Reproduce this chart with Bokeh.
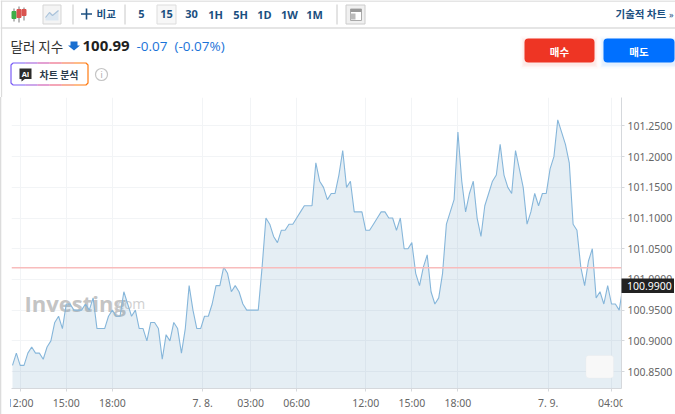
from bokeh.plotting import figure
from bokeh.models import Range1d, FixedTicker, Span, BoxAnnotation, Label, NumeralTickFormatter
from bokeh.core.properties import value
from bokeh.embed import file_html
from bokeh.resources import INLINE

values = [100.86,100.88,100.86,100.86,100.88,100.89,100.88,100.88,100.87,100.89,100.90,100.93,100.94,100.92,100.96,100.96,
100.95,100.95,100.95,100.96,100.95,100.97,100.92,100.92,100.92,100.94,100.95,100.94,100.94,100.98,100.96,100.94,
100.95,100.92,100.92,100.90,100.93,100.93,100.92,100.87,100.91,100.90,100.93,100.92,100.88,100.92,100.99,100.95,
100.92,100.92,100.94,100.94,100.96,100.99,100.99,101.02,101.01,100.98,100.99,100.98,100.96,100.95,100.95,100.95,100.95,
101.02,101.10,101.09,101.07,101.06,101.08,101.08,101.09,101.09,101.10,101.11,101.12,101.12,101.12,101.19,101.16,101.15,
101.13,101.14,101.14,101.17,101.21,101.15,101.16,101.11,101.11,101.11,101.08,101.08,101.09,101.10,101.11,101.11,101.10,
101.10,101.08,101.10,101.05,101.05,101.06,101.01,100.99,101.02,101.04,100.98,100.96,100.97,101.01,101.09,101.11,101.13,
101.24,101.16,101.11,101.14,101.16,101.10,101.07,101.12,101.14,101.16,101.17,101.22,101.17,101.15,101.14,101.21,101.18,
101.15,101.09,101.11,101.14,101.12,101.14,101.14,101.18,101.20,101.26,101.24,101.22,101.19,101.09,101.08,101.02,100.99,
101.03,101.05,100.97,100.98,100.96,100.99,100.96,100.96,100.95,100.99]
index = list(range(len(values)))
x_ticks = [2, 14, 26, 49.5, 62, 74, 92, 104, 116, 139.5, 156]
x_labels = ["12:00", "15:00", "18:00", "7. 8.", "03:00", "06:00", "12:00", "15:00", "18:00", "7. 9.", "04:00"]
y_ticks = [100.85, 100.90, 100.95, 101.00, 101.05, 101.10, 101.15, 101.20, 101.25]
previous_close = 101.019
last_price = 100.99
timeframes = ["5", "15", "30", "1H", "5H", "1D", "1W", "1M"]
tf_pos = [141, 166, 191, 215, 240, 264, 289, 314]

KR = value("Noto Sans CJK KR")
NS = value("Noto Sans")
OS = value("Open Sans")
NAVY = "#1b4f80"

# ---------- header (pixel coordinates of the page) ----------
h = figure(width=675, height=97, x_range=Range1d(0, 675), y_range=Range1d(97, 0),
           output_backend="svg", toolbar_location=None, min_border=0)
h.axis.visible = False
h.grid.visible = False
h.outline_line_color = None

def t(x, y, s, size, color, bold=False, align="left", font=KR):
    h.text([x], [y], text=[s], text_font=font, text_font_size=f"{size}px", text_color=color,
           text_align=align, text_baseline="middle", text_font_style="bold" if bold else "normal")

h.segment([0, 0, 1], [0.5, 27.5, 0], [675, 675, 1], [0.5, 27.5, 97], line_color="#dcdcdc", line_width=1.3)
h.segment([72.5, 124.5, 336.5], [4, 4, 4], [72.5, 124.5, 336.5], [24, 24, 24], line_color="#c8c8c8")
# candle icon
h.segment([13.5, 18.5, 23.5], [8, 6, 7], [13.5, 18.5, 23.5], [21, 22, 20], line_color="#777777")
h.quad([11.5, 21.5], [15.5, 25.5], [11, 9], [18, 15], fill_color=["#3fae49", "#d9534f"], line_color=["#3fae49", "#d9534f"])
h.quad([16.5], [20.5], [9], [17], fill_color="#d9534f", line_color="#d9534f")
# area icon
h.quad([42.5], [60.5], [4.5], [23.5], fill_color="#f4f4f4", line_color="#d5d5d5")
h.patch([45, 49, 52, 58, 58, 45], [17, 12, 15, 10, 20, 20], fill_color="#dce7f1", line_color=None)
h.line([45, 49, 52, 58], [17, 12, 15, 10], line_color="#a9c2da", line_width=1.2)
# compare
h.segment([80.5, 86], [13.5, 8], [91.5, 86], [13.5, 19], line_color=NAVY, line_width=1.6)
t(96, 13, "비교", 10.5, NAVY, True)
# timeframe
h.quad([156.5], [175.5], [4.5], [23.5], fill_color="#f7f7f7", line_color="#dddddd")
for xp, s in zip(tf_pos, timeframes):
    t(xp, 13.5, s, 11, NAVY, True, "center", OS)
# news icon
h.quad([345.5], [364.5], [4.5], [23.5], fill_color="#f0f0f0", line_color="#cccccc")
h.quad([350], [361], [8.5], [20], fill_color="#ffffff", line_color="#aaaaaa")
h.quad([350], [361], [8.5], [11.5], fill_color="#999999", line_color=None)
h.quad([350], [355], [13], [19], fill_color="#bbbbbb", line_color=None)
t(615, 13, "기술적 차트", 10.5, NAVY, True)
t(668.5, 13.5, "»", 9, NAVY, False, "left", NS)
# quote line
t(10, 45, "달러 지수", 13.5, "#333333")
h.patch([70, 77, 77, 79.5, 73.5, 67.5, 70], [41, 41, 45, 45, 50, 45, 45], fill_color="#1a6fd0", line_color=None)
t(82, 45.5, "100.99", 15, "#1f1f1f", True, "left", OS)
t(136, 45.5, "-0.07", 13.5, "#1a73d8", False, "left", OS)
t(174, 45.5, "(-0.07%)", 13.5, "#1a73d8", False, "left", OS)
# trade buttons
for d, a in ((4, 0.025), (2.5, 0.035), (1.2, 0.05)):
    h.quad([524 - d], [594 + d], [38 - d + 2], [62 + d + 2], fill_color="#ee3524", fill_alpha=a, line_color=None)
    h.quad([603 - d], [675], [38 - d + 2], [62 + d + 2], fill_color="#0070ff", fill_alpha=a, line_color=None)
h.add_layout(BoxAnnotation(left=524, right=594, top=38, bottom=62, fill_color="#ee3524", fill_alpha=1, line_color=None, border_radius=4))
h.add_layout(BoxAnnotation(left=603, right=674, top=38, bottom=62, fill_color="#0070ff", fill_alpha=1, line_color=None, border_radius=4))
h.add_layout(Label(x=559, y=50.5, text="매수", text_font="Noto Sans CJK KR", text_font_size="10.5px", text_font_style="bold", text_color="#ffffff", text_align="center", text_baseline="middle"))
h.add_layout(Label(x=638.5, y=50.5, text="매도", text_font="Noto Sans CJK KR", text_font_size="10.5px", text_font_style="bold", text_color="#ffffff", text_align="center", text_baseline="middle"))
# AI chart analysis button
seg = ["#7a5cf5", "#9a50d8", "#c845a8", "#e94f70", "#f5683a", "#ff7a10"]
for k, c in enumerate(seg):
    a = 12.5 + k * 12.2
    h.segment([a, a], [62.5, 84.5], [a + 12.2, a + 12.2], [62.5, 84.5], line_color=c, line_width=1.2)
h.line([12.5, 10.5, 10.5, 12.5], [62.5, 64.5, 82.5, 84.5], line_color="#7a5cf5", line_width=1.2)
h.line([85.5, 87.5, 87.5, 85.5], [62.5, 64.5, 82.5, 84.5], line_color="#ff7a10", line_width=1.2)
h.quad([19], [31], [68], [78.5], fill_color="#2b2b2b", line_color=None)
h.patch([21, 25, 21], [78, 78, 81], fill_color="#2b2b2b", line_color=None)
t(25, 73.3, "AI", 7.5, "#ffffff", True, "center", OS)
t(39, 73.5, "차트 분석", 10, "#2b3a4a", True)
h.circle([101], [74], radius=6, fill_color="#ffffff", line_color="#c4c4c4", line_width=1.2)
t(101, 74, "i", 8.5, "#aaaaaa", False, "center", NS)

# ---------- chart ----------
FL, FR, FT, FB = 11, 621, 97, 388   # page pixels of the plotting frame
x0, x1 = -0.26, 158.6
y0, y1 = 100.8224, 101.2963
def X(px): return x0 + (px - FL) * (x1 - x0) / (FR - FL)
def Y(py): return y1 - (py - FT) * (y1 - y0) / (FB - FT)

p = figure(width=675, height=317, x_range=Range1d(x0, x1), y_range=Range1d(y0, y1),
           output_backend="svg", toolbar_location=None, x_axis_location="below", y_axis_location="right",
           min_border_left=FL, min_border_right=675 - FR, min_border_top=0, min_border_bottom=414 - FB)
p.outline_line_color = None
p.border_fill_color = None
p.styles = {"box-shadow": "inset 1.3px 0 0 #dcdcdc"}
p.xaxis.ticker = FixedTicker(ticks=x_ticks)
p.xaxis.major_label_overrides = {float(a) if a != int(a) else int(a): b for a, b in zip(x_ticks, x_labels)}
p.yaxis.ticker = FixedTicker(ticks=y_ticks)
p.yaxis.formatter = NumeralTickFormatter(format="0.0000")
for ax in (p.xaxis[0], p.yaxis[0]):
    ax.axis_line_color = "#d5d8dc"
    ax.major_tick_line_color = "#d5d8dc"
    ax.major_tick_out = 3
    ax.major_tick_in = 0
    ax.minor_tick_line_color = None
    ax.major_label_text_font = "Noto Sans"
    ax.major_label_text_font_size = "10.5px"
    ax.major_label_text_color = "#666666"
p.xaxis[0].major_label_standoff = 4
p.yaxis[0].major_label_standoff = 3
p.grid.grid_line_color = "#f2f4f6"

p.text([X(24)], [Y(302)], text=["Investing"], text_font=OS, text_font_style="bold",
       text_font_size="22px", text_color="#c4c4c4", text_baseline="middle")
p.text([X(113)], [Y(303)], text=[".com"], text_font=OS, text_font_size="14px",
       text_color="#cfcfcf", text_baseline="middle")
p.varea(index, [y0] * len(values), values, fill_color="#4f8ab8", fill_alpha=0.15)
p.line(index, values, line_color="#86b6da", line_width=1.1)
p.add_layout(Span(location=previous_close, dimension="width", line_color="#f8bcbc", line_width=1.4))
p.add_layout(BoxAnnotation(left=X(585.5), right=X(613), top=Y(355), bottom=Y(377.5), fill_color="#f8f8f8",
                           fill_alpha=1, line_color="#e8e8e8", border_radius=3))

# ---------- small pieces laid over the chart at page positions ----------
def overlay(left, top, w, ht, bg):
    f = figure(width=w, height=ht, x_range=Range1d(0, w), y_range=Range1d(ht, 0), output_backend="svg",
               toolbar_location=None, min_border=0)
    f.axis.visible = False
    f.grid.visible = False
    f.outline_line_color = None
    f.background_fill_color = bg
    f.border_fill_color = bg
    f.styles = {"position": "absolute", "left": f"{left}px", "top": f"{top}px"}
    return f

tag = overlay(621, 278, 53, 15, "#222222")
tag.text([5.5], [7.5], text=[f"{last_price:.4f}"], text_font=NS, text_font_size="10.5px", text_color="#ffffff",
         text_baseline="middle")
# the chart's own edges cut the first and last time labels
cover_right = overlay(622, 390, 14, 20, "#ffffff")
cover_left = overlay(2, 390, 8, 20, "#ffffff")

open("out.html", "w").write(file_html([h, p, tag, cover_right, cover_left], INLINE))
